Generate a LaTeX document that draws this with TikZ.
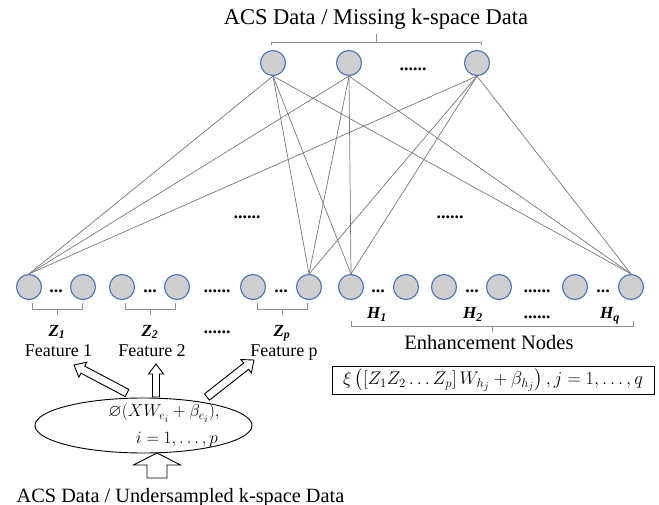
\documentclass[tikz,border=0pt]{standalone}
\usepackage{graphicx}
\usepackage{amssymb}
\usepackage{fontspec}
\setmainfont{Liberation Serif}
\usetikzlibrary{shapes.geometric}
\definecolor{nodefill}{RGB}{208,206,206}
\definecolor{nodeline}{RGB}{84,120,188}
\definecolor{linkgray}{RGB}{120,120,120}
\definecolor{brgray}{RGB}{145,145,145}
\newcommand\hollowarrow[7]{%
  \pgfmathsetmacro\haAng{atan2((#4)-(#2),(#3)-(#1))}%
  \pgfmathsetmacro\haLen{veclen((#3)-(#1),(#4)-(#2))}%
  \begin{scope}[shift={(#1,#2)}, rotate=\haAng]
    \draw[blockarrow] (0,-#5) -- (\haLen-#7,-#5) -- (\haLen-#7,-#6) -- (\haLen,0)
      -- (\haLen-#7,#6) -- (\haLen-#7,#5) -- (0,#5) -- cycle;
  \end{scope}}
\newcommand\shortdots{...}
\newcommand\longdots{......}
\begin{document}
\begin{tikzpicture}[x=1pt,y=1pt,
  neuron/.style={circle, draw=nodeline, fill=nodefill, line width=1.2pt, minimum size=25pt, inner sep=0pt},
  link/.style={draw=linkgray, line width=0.7pt},
  bracketline/.style={draw=brgray, line width=0.8pt},
  lbl/.style={font=\fontsize{18}{21}\selectfont, inner sep=0pt, anchor=base},
  zlbl/.style={font=\fontsize{17}{20}\selectfont\bfseries\itshape, inner sep=0pt, anchor=base},
  dotlbl/.style={font=\fontsize{18}{21}\selectfont\bfseries, inner sep=0pt, anchor=base},
  blockarrow/.style={draw=black, line width=0.9pt, fill=white}]
\useasboundingbox (0,0) rectangle (659,-505);

% title
\node[lbl, font=\fontsize{22.5}{26}\selectfont] (ttl) at (376,-25) {ACS Data / Missing k-space Data};
\draw[bracketline] (271,-45) -- (271,-42) -- (481,-42) -- (481,-45);
\draw[bracketline] (376,-42) -- (376,-34);

% top nodes
\node[neuron] (t1) at (273,-63) {};
\node[neuron] (t2) at (349,-63) {};
\node[neuron] (t3) at (477,-63) {};
\node[dotlbl] (tdots) at (413,-71) {\longdots};

% bottom nodes
\foreach \n/\x in {z11/29, z12/83, z21/122, z22/177, zp1/253, zp2/309,
                   h11/351, h12/406, h21/444, h22/499, hq1/575, hq2/631}
  \node[neuron] (\n) at (\x,-287) {};

\foreach \n/\x/\t in {d1/56/\shortdots, d2/150/\shortdots, d3/217/\longdots, d4/281/\shortdots,
                      d5/378/\shortdots, d6/472/\shortdots, d7/537/\longdots, d8/603/\shortdots}
  \node[dotlbl] (\n) at (\x,-293) {\t};

% connections
\foreach \t in {t1,t2,t3}
  \foreach \b in {z11,zp2,h11,hq2}
    \draw[link] (\t.south) -- (\b.north);

\node[dotlbl] (md1) at (247,-219) {\longdots};
\node[dotlbl] (md2) at (450,-219) {\longdots};

% Z brackets
\foreach \a/\b in {32/82, 125/175, 257/307}{
  \draw[bracketline] (\a,-303) -- (\a,-309) -- (\b,-309) -- (\b,-303);
  \draw[bracketline] ({(\a+\b)/2},-309) -- ({(\a+\b)/2},-315);
}
\node[zlbl] (zl1) at (57,-336) {Z\textsubscript{1}};
\node[zlbl] (zl2) at (150,-336) {Z\textsubscript{2}};
\node[dotlbl] (zld) at (217,-334) {\longdots};
\node[zlbl] (zlp) at (282,-336) {Z\textsubscript{p}};

\node[lbl] (f1) at (58.5,-356) {Feature 1};
\node[lbl] (f2) at (152,-356) {Feature 2};
\node[lbl] (fp) at (284,-356) {Feature p};

% H labels and bracket
\node[zlbl] (hl1) at (377,-319) {H\textsubscript{1}};
\node[zlbl] (hl2) at (473,-319) {H\textsubscript{2}};
\node[dotlbl] (hld) at (537,-318) {\longdots};
\node[zlbl] (hlq) at (610,-319) {H\textsubscript{q}};
\draw[bracketline] (351,-321) -- (351,-326) -- (633,-326) -- (633,-321);
\draw[bracketline] (492,-326) -- (492,-332);

\node[lbl, font=\fontsize{20.5}{24}\selectfont] (enh) at (489,-349) {Enhancement Nodes};
\node[draw=black, line width=0.8pt, minimum width=322pt, minimum height=28pt, inner sep=0pt,
      font=\fontsize{17.28}{21}\selectfont] (ebox) at (493,-380.5)
  {\scalebox{1.06}{$\xi\left(\left[Z_1Z_2\ldots Z_p\right]W_{h_j}+\beta_{h_j}\right), j=1,\ldots,q$}};

% ellipse
\node[ellipse, draw=black, line width=0.9pt, minimum width=217pt, minimum height=55pt, inner sep=0pt] (ell) at (143.5,-425.5) {};
\node[font=\fontsize{17.28}{20}\selectfont, inner sep=0pt] (el1) at (164,-413) {$\varnothing(XW_{e_i}+\beta_{e_i}),$};
\node[font=\fontsize{17.28}{20}\selectfont, inner sep=0pt] (el2) at (177,-440) {$i=1,\ldots,p$};

% arrows
\hollowarrow{127}{-393}{74}{-365}{4}{8.5}{10}
\hollowarrow{156}{-397}{156}{-364}{3.5}{7.5}{10}
\hollowarrow{207}{-397}{254}{-360}{4}{8.5}{10}
\hollowarrow{157}{-478}{157}{-453}{10}{23.5}{12}

\node[lbl, font=\fontsize{20.3}{24}\selectfont] (btl) at (180.5,-502) {ACS Data / Undersampled k-space Data};
\end{tikzpicture}
\end{document}
